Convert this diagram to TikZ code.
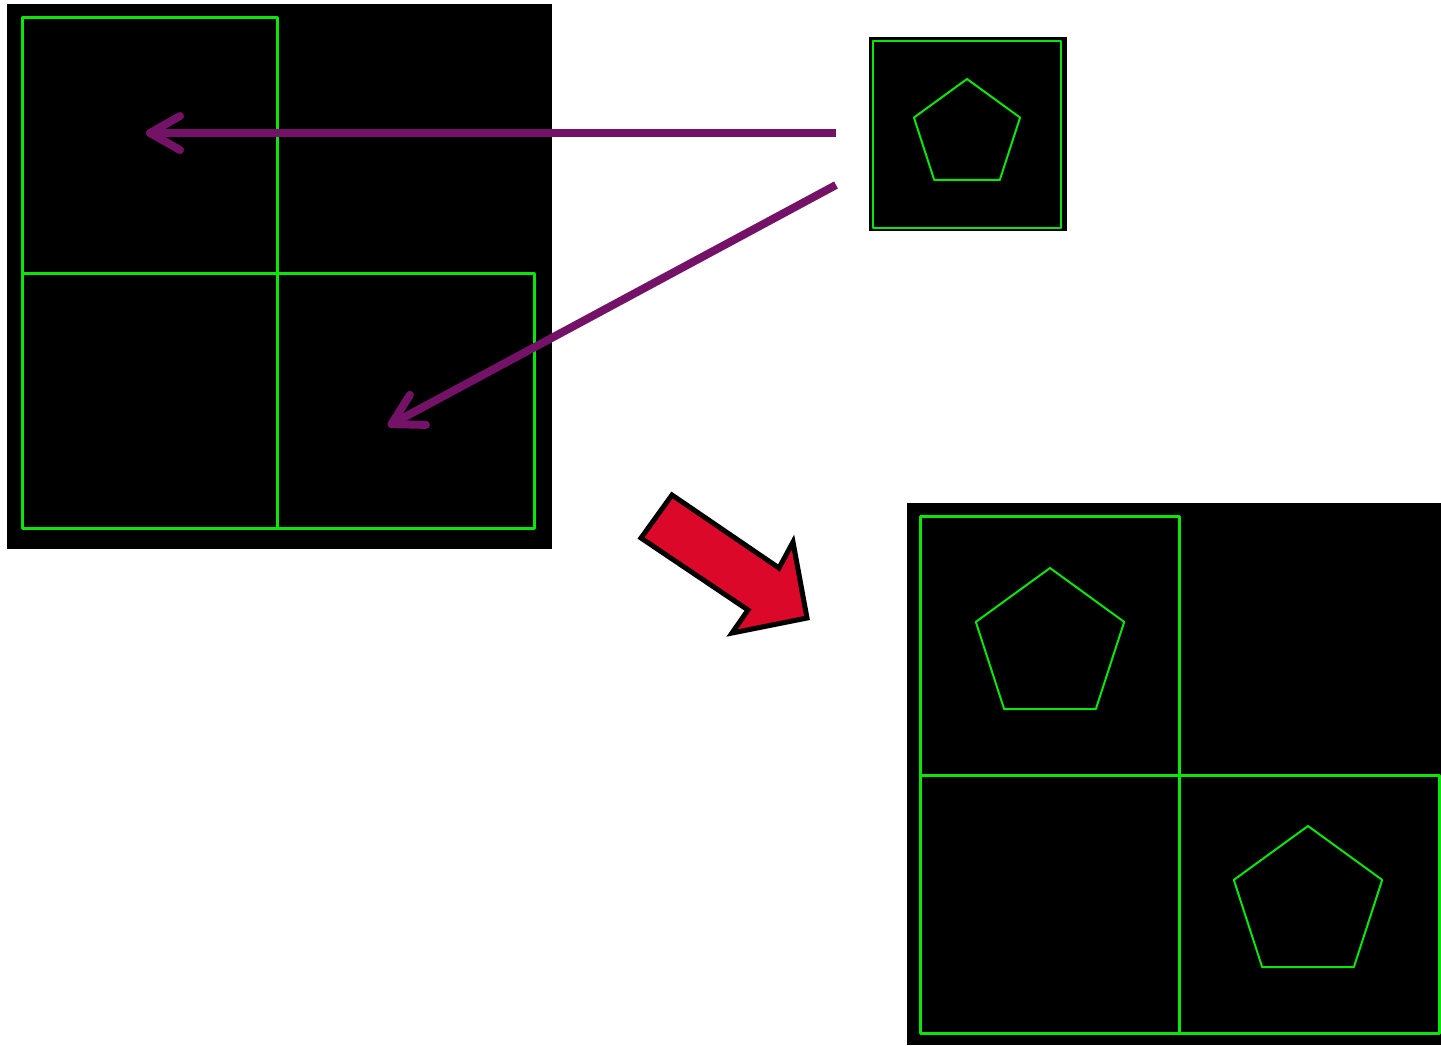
\documentclass[tikz,border=0pt]{standalone}
\usetikzlibrary{arrows.meta}
\definecolor{grn}{RGB}{10,230,10}
\definecolor{prp}{RGB}{116,18,104}
\definecolor{rd}{RGB}{220,8,42}
\tikzset{
  grid/.style={draw=grn,line width=3pt,line join=round},
  pentline/.style={draw=grn,line width=2pt,line join=round},
  panel/.style={fill=black},
  moveto/.style={draw=prp,line width=8pt,
    -{Straight Barb[length=30pt,width=34pt,line cap=round,line join=round]}},
  bigarrow/.style={fill=rd,draw=black,line width=5pt,line join=miter}
}
\newcommand\pent[3]{\draw[pentline] (#1,#2) +(-90:#3) -- +(-162:#3) -- +(-234:#3) -- +(-306:#3) -- +(-18:#3) -- cycle;}
\begin{document}
\begin{tikzpicture}[x=1pt,y=-1pt]
\useasboundingbox (0,0) rectangle (1441,1045);
% left panel
\fill[panel] (7,4) rectangle (552,549);
\draw[grid] (22,17) rectangle (277,273);
\draw[grid] (22,273) rectangle (277,528);
\draw[grid] (277,273) rectangle (534,528);
% small source panel
\node[panel,minimum width=198pt,minimum height=194pt,inner sep=0pt] (src) at (968,134) {};
\draw[grid,line width=2.5pt] (873,41) rectangle (1061,228);
\pent{967}{134.8}{55.8}
% purple arrows
\coordinate (s1) at (836,133);
\coordinate (t1) at (146,133);
\coordinate (s2) at (836,185);
\coordinate (t2) at (388,426);
\draw[moveto] (s1) -- (t1);
\draw[moveto] (s2) -- (t2);
% red arrow
\fill[bigarrow] (672,495) -- (779,568) -- (793,542) -- (807,618) -- (732,633) -- (748,610) -- (641,538) -- cycle;
% result panel
\fill[panel] (907,503) rectangle (1441,1045);
\draw[grid] (920,516) rectangle (1179,775);
\draw[grid] (920,775) rectangle (1179,1033);
\draw[grid] (1179,775) rectangle (1439,1033);
\pent{1050}{646}{78}
\pent{1308}{904}{78}
\end{tikzpicture}
\end{document}
